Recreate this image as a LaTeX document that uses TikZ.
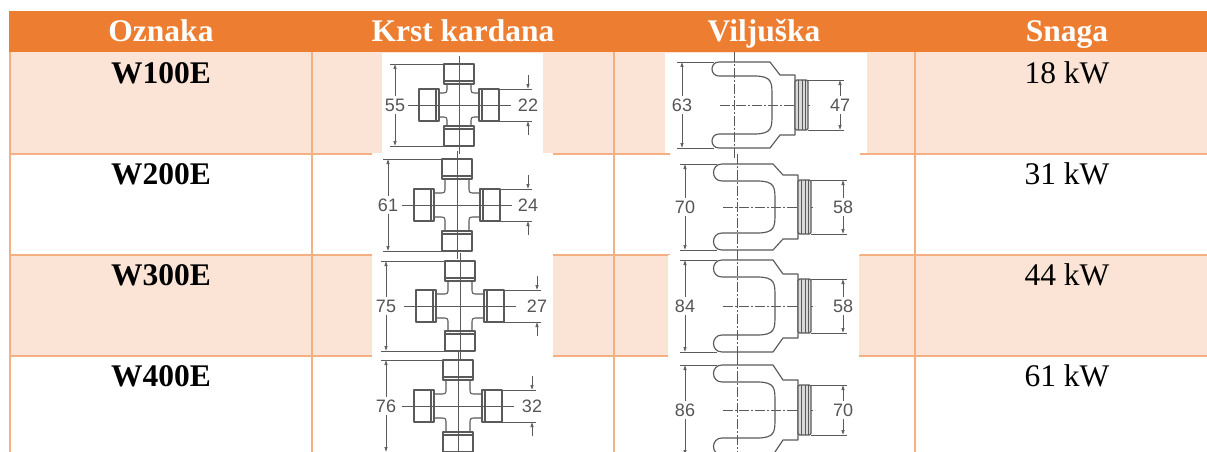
\documentclass[tikz,border=0pt]{standalone}
\usepackage{fontspec}
\setmainfont{Liberation Serif}
\newfontfamily\dimfont{Liberation Sans}
\usetikzlibrary{arrows.meta}
\definecolor{hdrorange}{HTML}{ED7D31}
\definecolor{rowpink}{HTML}{FBE4D5}
\definecolor{gridline}{HTML}{F4B083}
\definecolor{inkgray}{HTML}{5A5A5A}
\definecolor{lblgray}{HTML}{555555}
\tikzset{
 hdr/.style={anchor=base,text=white,font=\fontsize{31.5}{36}\selectfont\bfseries,inner sep=0pt},
 namecell/.style={anchor=base,font=\fontsize{31.5}{36}\selectfont\bfseries,inner sep=0pt},
 valcell/.style={anchor=base,font=\fontsize{31.5}{36}\selectfont,inner sep=0pt},
 tblline/.style={draw=gridline,line width=1.6pt},
 photo/.style={fill=white},
 part/.style={draw=inkgray,line width=1.15pt,line join=round},
 thinl/.style={draw=inkgray,line width=0.6pt},
 dimarr/.style={draw=inkgray,line width=0.6pt,arrows={Latex[length=5pt,width=3.5pt]-Latex[length=5pt,width=3.5pt]}},
 dimone/.style={draw=inkgray,line width=0.6pt,-{Latex[length=5pt,width=3.5pt]}},
 dimlbl/.style={font=\dimfont\fontsize{18}{20}\selectfont,text=lblgray,fill=white,inner sep=2.5pt},
 cline/.style={draw=inkgray,line width=0.5pt,dash pattern=on 10pt off 2pt on 2pt off 2pt},
}
% universal joint cross: cx, cy, a, b, left dim x, right dim x, left label, right label, id
\newcommand\ujoint[9]{%
\begin{scope}[shift={(#1,#2)}]
 \draw[thinl] (0,{-#3-28}) -- (0,{#3+28});
 \draw[thinl] ({-#4-32},0) -- ({#4+32},0);
 \draw[part] (12,{-#3}) -- (12,-18) .. controls (12,-12) .. (18,-12) -- (#4,-12);
 \draw[part] (#4,12) -- (18,12) .. controls (12,12) .. (12,18) -- (12,#3);
 \draw[part] (-12,#3) -- (-12,18) .. controls (-12,12) .. (-18,12) -- ({-#4},12);
 \draw[part] ({-#4},-12) -- (-18,-12) .. controls (-12,-12) .. (-12,-18) -- (-12,{-#3});
 \draw[part] (-15,{-#3-20}) rectangle (15,{-#3});
 \draw[part] (-15,{-#3-3}) -- (15,{-#3-3});
 \draw[part] (-15,#3) rectangle (15,{#3+20});
 \draw[part] (-15,{#3+3}) -- (15,{#3+3});
 \draw[part] ({-#4-20},-16) rectangle ({-#4},16);
 \draw[part] ({-#4-3},-16) -- ({-#4-3},16);
 \draw[part] (#4,-16) rectangle ({#4+20},16);
 \draw[part] ({#4+3},-16) -- ({#4+3},16);
 \draw[thinl] ({#5-5},{-#3-20}) -- (-15,{-#3-20});
 \draw[thinl] ({#5-5},{#3+20}) -- (-15,{#3+20});
 \draw[dimarr] (#5,{-#3-20}) -- (#5,{#3+20});
 \node[dimlbl] (#9l) at (#5,0) {#7};
 \draw[thinl] ({#4+20},-16) -- ({#6+4},-16);
 \draw[thinl] ({#4+20},16) -- ({#6+4},16);
 \draw[dimone] (#6,-30) -- (#6,-16);
 \draw[dimone] (#6,30) -- (#6,16);
 \node[dimlbl] (#9r) at (#6,0) {#8};
\end{scope}}
% yoke: x0, cy, H, t, C, left label, right label, id
\newcommand\yoke[8]{%
\begin{scope}[shift={(#1,#2)}]
 \draw[cline] (22,{-#3-10}) -- (22,{#3+10});
 \draw[cline] (8,0) -- (100,0);
 \draw[part] (58,{-#3}) -- (7,{-#3})
   .. controls ({7-2*#4/3},{-#3}) and ({7-2*#4/3},{-#3+#4}) .. (7,{-#3+#4})
   -- (42,{-#3+#4}) .. controls (60,{-#3+#4}) and (60,{-#3+#4+6}) .. (60,{-#3+#4+20})
   -- (60,{#3-#4-20}) .. controls (60,{#3-#4-6}) and (60,{#3-#4}) .. (42,{#3-#4})
   -- (7,{#3-#4}) .. controls ({7-2*#4/3},{#3-#4}) and ({7-2*#4/3},#3) .. (7,#3)
   -- (58,#3) -- (68,{#5+5}) -- (83,{#5+5}) -- (83,{-#5-5}) -- (68,{-#5-5}) -- cycle;
 \draw[part,fill=gray!30,rounded corners=1.5pt] (83,{-#5}) rectangle (96,#5);
 \draw[thinl] (86.5,{-#5}) -- (86.5,#5);
 \draw[thinl] (90,{-#5}) -- (90,#5);
 \draw[thinl] (93,{-#5}) -- (93,#5);
 \draw[thinl] (-35,{-#3}) -- (2,{-#3});
 \draw[thinl] (-35,#3) -- (2,#3);
 \draw[dimarr] (-30,{-#3}) -- (-30,#3);
 \node[dimlbl] (#8l) at (-30,0) {#6};
 \draw[thinl] (96,{-#5}) -- (132,{-#5});
 \draw[thinl] (96,#5) -- (132,#5);
 \draw[dimarr] (128,{-#5}) -- (128,#5);
 \node[dimlbl] (#8r) at (128,0) {#7};
\end{scope}}
\begin{document}
\begin{tikzpicture}[x=1pt,y=-1pt]
\useasboundingbox (0,0) rectangle (1207,452);
% table background
\fill[hdrorange] (9,11) rectangle (1222,52);
\fill[rowpink] (10,52) rectangle (1222,154);
\fill[rowpink] (10,255) rectangle (1222,356);
\foreach \xx in {10,312,614,915} \draw[tblline] (\xx,52) -- (\xx,460);
\foreach \yy in {154,255,356} \draw[tblline] (10,\yy) -- (1222,\yy);
% headers
\node[hdr] (h1) at (161,42) {Oznaka};
\node[hdr] (h2) at (463,42) {Krst kardana};
\node[hdr] (h3) at (764,42) {Viljuška};
\node[hdr] (h4) at (1067,42) {Snaga};
% names
\node[namecell] (n1) at (161,83) {W100E};
\node[namecell] (n2) at (161,184) {W200E};
\node[namecell] (n3) at (161,285) {W300E};
\node[namecell] (n4) at (161,386) {W400E};
% power
\node[valcell] (p1) at (1067,83) {18 kW};
\node[valcell] (p2) at (1067,184) {31 kW};
\node[valcell] (p3) at (1067,285) {44 kW};
\node[valcell] (p4) at (1067,386) {61 kW};
% picture backgrounds
\fill[photo] (382,53) rectangle (543,153);
\fill[photo] (372,153) rectangle (553,255);
\fill[photo] (372,255) rectangle (553,357);
\fill[photo] (372,357) rectangle (553,452);
\fill[photo] (665,53) rectangle (867,153);
\fill[photo] (670,153) rectangle (860,255);
\fill[photo] (668,255) rectangle (859,357);
\fill[photo] (670,357) rectangle (857,452);
% crosses
\ujoint{459}{105}{21}{20}{-64}{69}{55}{22}{ca}
\ujoint{457}{205}{26}{23}{-69}{71}{61}{24}{cb}
\ujoint{460}{306}{25}{24}{-74}{77}{75}{27}{cc}
\ujoint{458}{406}{26}{24}{-72}{74}{76}{32}{cd}
% yokes
\yoke{712}{105}{43}{14}{25}{63}{47}{ya}
\yoke{715}{207}{43}{17}{27}{70}{58}{yb}
\yoke{715}{306}{46}{17}{27}{84}{58}{yc}
\yoke{715}{410}{45}{17}{25}{86}{70}{yd}
\end{tikzpicture}
\end{document}
